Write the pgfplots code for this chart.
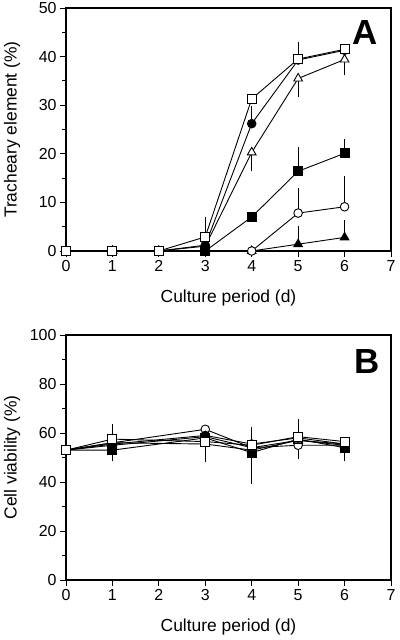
\documentclass[border=0pt]{standalone}
\usepackage{pgfplots}
\pgfplotsset{compat=1.18}
\usepackage{fontspec}
\setmainfont{Liberation Sans}
\begin{document}
\begin{tikzpicture}
\useasboundingbox (0,0) rectangle (400bp,640bp);
\pgfplotsset{
  every axis/.append style={
    scale only axis, xmin=0, xmax=7, xtick={0,1,...,7},
    tick align=outside, tick pos=left,
    major tick length=6bp, minor tick length=4bp,
    every tick/.style={black, line width=0.9bp},
    axis line style={line width=1.1bp},
    /pgf/number format/assume math mode=true,
    tick label style={font=\fontsize{16}{18}\selectfont},
    label style={font=\fontsize{17.5}{20}\selectfont},
    xlabel={Culture period (d)},
    xlabel style={at={(axis description cs:0.5,0)}, anchor=center, yshift=-47bp},
    clip=false,
  },
  dl/.style={black, line width=0.9bp},
  osq/.style={dl, mark=square*, mark size=4.5bp, mark options={fill=white, solid}},
  fsq/.style={dl, mark=square*, mark size=4.5bp, mark options={fill=black, solid}},
  oci/.style={dl, mark=*, mark size=4.3bp, mark options={fill=white, solid}},
  fci/.style={dl, mark=*, mark size=4.3bp, mark options={fill=black, solid}},
  otr/.style={dl, mark=triangle*, mark size=5bp, mark options={fill=white, solid}},
  ftr/.style={dl, mark=triangle*, mark size=5bp, mark options={fill=black, solid}},
  ebp/.style={only marks, mark=none, forget plot,
    error bars/.cd, y dir=plus, y explicit,
    error bar style={black, line width=0.6bp},
    error mark options={black, mark size=4bp, line width=0.6bp}},
  ebm/.style={only marks, mark=none, forget plot,
    error bars/.cd, y dir=minus, y explicit,
    error bar style={black, line width=0.6bp},
    error mark options={black, mark size=4bp, line width=0.6bp}},
}
% ---------------- Panel A ----------------
\begin{axis}[
  at={(66bp,389bp)}, anchor=south west,
  width=325bp, height=243bp,
  ymin=0, ymax=50, ytick={0,10,...,50}, minor y tick num=1,
  ylabel={Tracheary element (\%)},
  ylabel style={at={(axis description cs:-0.166,0.5)}, anchor=center},
]
% error bars
\addplot[ebp] coordinates {(3,2.9) +- (0,3.3) (5,39.5) +- (0,2.6)};
\addplot[ebp] coordinates {(4,26.2) +- (0,2.8)};
\addplot[ebm] coordinates {(4,20.3) +- (0,3.1) (5,35.5) +- (0,2.9) (6,39.4) +- (0,2.4)};
\addplot[ebp] coordinates {(5,16.4) +- (0,4.1) (6,20.1) +- (0,2.1)};
\addplot[ebp] coordinates {(5,7.8) +- (0,4.3) (6,9.1) +- (0,5.5)};
\addplot[ebp] coordinates {(5,1.4) +- (0,3.0) (6,2.8) +- (0,2.7)};
% series
\addplot[ftr] coordinates {(0,0)(1,0)(2,0)(3,0)(4,0)(5,1.4)(6,2.8)};
\addplot[oci] coordinates {(0,0)(1,0)(2,0)(3,0)(4,0)(5,7.8)(6,9.1)};
\addplot[fsq] coordinates {(0,0)(1,0)(2,0)(3,0)(4,7.0)(5,16.4)(6,20.1)};
\addplot[otr] coordinates {(0,0)(1,0)(2,0)(3,1)(4,20.3)(5,35.5)(6,39.4)};
\addplot[fci] coordinates {(0,0)(1,0)(2,0)(3,1.2)(4,26.2)(5,39.3)(6,41.3)};
\addplot[osq] coordinates {(0,0)(1,0)(2,0)(3,2.9)(4,31.3)(5,39.5)(6,41.5)};
\node[font=\fontsize{35}{40}\bfseries\selectfont] at (axis cs:6.44,45.0) {A};
\end{axis}
% ---------------- Panel B ----------------
\begin{axis}[
  at={(66bp,60bp)}, anchor=south west,
  width=325bp, height=245bp,
  ymin=0, ymax=100, ytick={0,20,...,100}, minor y tick num=1,
  ylabel={Cell viability (\%)},
  ylabel style={at={(axis description cs:-0.166,0.5)}, anchor=center},
]
% error bars
\addplot[ebp] coordinates {(1,57.5) +- (0,4.4) (5,58.5) +- (0,5.5)};
\addplot[ebm] coordinates {(1,53) +- (0,3) (4,52) +- (0,11) (6,54) +- (0,3.8)};
\addplot[ebm] coordinates {(3,55.5) +- (0,5.8) (5,57) +- (0,4.3)};
\addplot[ebm] coordinates {(4,54) +- (0,8.4) (5,55) +- (0,4)};
\addplot[ebp] coordinates {(4,55.5) +- (0,5.5)};
% series
\addplot[ftr] coordinates {(0,53)(1,56)(3,55.5)(4,53)(5,57)(6,55)};
\addplot[oci] coordinates {(0,53)(1,56)(3,61.5)(4,54)(5,55)(6,55)};
\addplot[fsq] coordinates {(0,53)(1,53)(3,58)(4,52)(5,57.5)(6,54)};
\addplot[otr] coordinates {(0,53)(1,55)(3,58.5)(4,54)(5,57)(6,55.5)};
\addplot[fci] coordinates {(0,53)(1,55.5)(3,59)(4,55.5)(5,58)(6,55.5)};
\addplot[osq] coordinates {(0,53)(1,57.5)(3,56.5)(4,55)(5,58.5)(6,56.5)};
\node[font=\fontsize{35}{40}\bfseries\selectfont] at (axis cs:6.49,89.1) {B};
\end{axis}
\end{tikzpicture}
\end{document}
